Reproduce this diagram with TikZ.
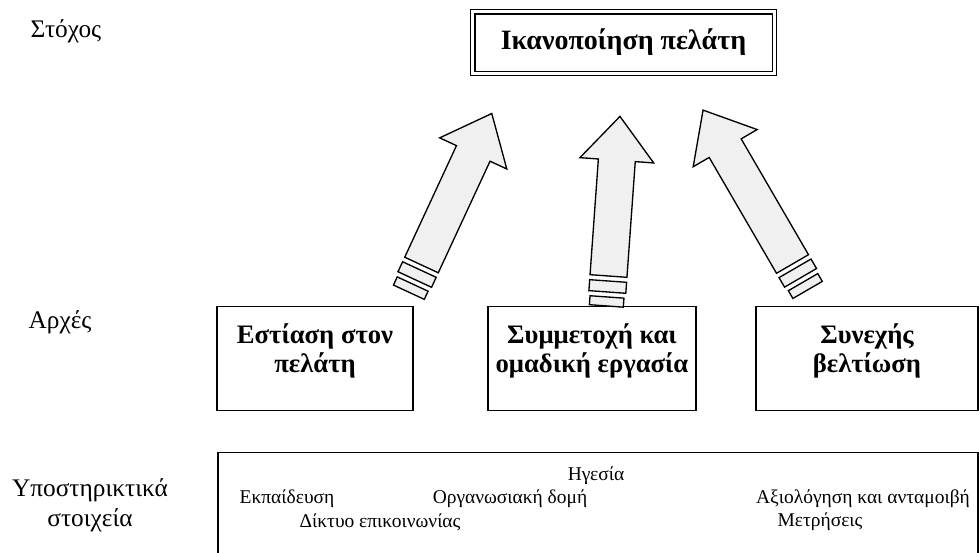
\documentclass[tikz,border=0pt]{standalone}
\usepackage{fontspec}
\setmainfont{Liberation Serif}
\usetikzlibrary{calc}
\definecolor{arrowgray}{HTML}{F0F0F0}

\tikzset{
  goalbox/.style={draw, double, line width=0.9pt, double distance=2.2pt,
    minimum width=226pt, minimum height=46pt,
    font=\bfseries\fontsize{21}{24}\selectfont},
  principle/.style={draw, line width=1.1pt, minimum height=78pt, align=center,
    text depth=16pt, font=\bfseries\fontsize{20}{22}\selectfont},
  support/.style={draw, line width=1.1pt, minimum width=570pt, minimum height=88pt},
  level/.style={font=\fontsize{19}{22.5}\selectfont, align=center},
  factor/.style={font=\fontsize{14.6}{17}\selectfont},
  pics/pillar/.style={code={
    \draw[line width=1pt, fill=arrowgray, line join=miter]
      (0,-18.5) -- (#1-44,-18.5) -- (#1-44,-37) -- (#1,0)
      -- (#1-44,37) -- (#1-44,18.5) -- (0,18.5) -- cycle;
    \draw[line width=1pt, fill=arrowgray] (-5,-18.5) rectangle (-16,18.5);
    \draw[line width=1pt, fill=arrowgray] (-21,-17) rectangle (-30,17);
  }}
}

\begin{document}
\begin{tikzpicture}[x=0.75pt, y=0.75pt]
\useasboundingbox (0,0) rectangle (979,-553);

% levels on the left
\node[level] (goal-lbl) at (66,-31) {Στόχος};
\node[level] (prin-lbl) at (60,-322) {Αρχές};
\node[level] (supp-lbl) at (90,-505) {Υποστηρικτικά\\στοιχεία};

% goal
\node[goalbox] (goal) at (623.5,-42.5) {Ικανοποίηση πελάτη};

% principles
\node[principle, minimum width=147pt] (focus) at (315,-358.5) {Εστίαση στον\\πελάτη};
\node[principle, minimum width=156pt] (team) at (592,-358.5) {Συμμετοχή και\\ομαδική εργασία};
\node[principle, minimum width=166.5pt] (improve) at (867,-358.5) {Συνεχής\\βελτίωση};

% supporting elements
\node[support] (base) at (598,-511) {};
\node[factor] (lead) at (596,-476) {Ηγεσία};
\node[factor] (train) at (287,-499) {Εκπαίδευση};
\node[factor] (org) at (510,-499) {Οργανωσιακή δομή};
\node[factor] (eval) at (863,-499) {Αξιολόγηση και ανταμοιβή};
\node[factor] (comm) at (380,-522) {Δίκτυο επικοινωνίας};
\node[factor] (meas) at (820,-522) {Μετρήσεις};

% arrows up to the goal
\coordinate (tail1) at (421.5,-265);
\coordinate (tip1) at (492,-113);
\coordinate (tail2) at (608.5,-276);
\coordinate (tip2) at (620,-116);
\coordinate (tail3) at (792.5,-264);
\coordinate (tip3) at (703,-110);
\path (tail1) -- pic[pos=0, sloped, allow upside down] {pillar=167} (tip1);
\path (tail2) -- pic[pos=0, sloped, allow upside down] {pillar=160} (tip2);
\path (tail3) -- pic[pos=0, sloped, allow upside down] {pillar=178} (tip3);
\end{tikzpicture}
\end{document}
